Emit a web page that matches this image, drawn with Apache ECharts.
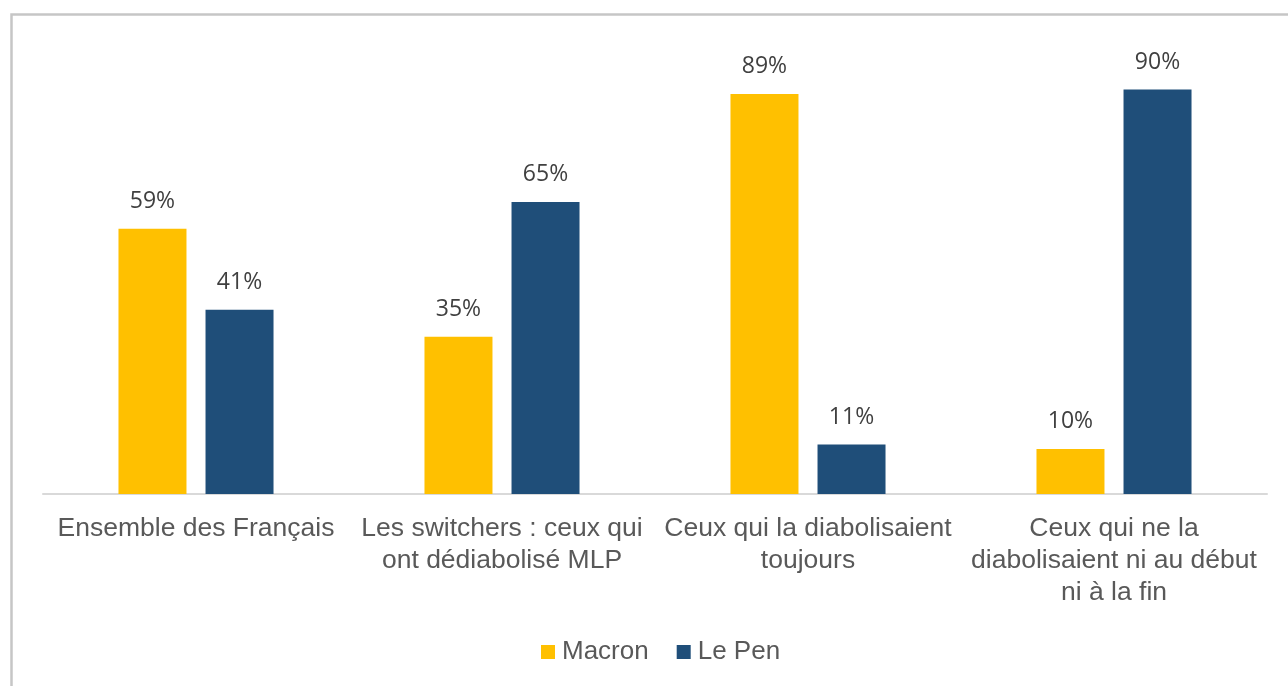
<!DOCTYPE html>
<html>
<head>
<meta charset="utf-8">
<script src="https://cdn.jsdelivr.net/npm/echarts@6/dist/echarts.min.js"></script>
<style>html,body{margin:0;padding:0;background:#fff}#c{width:1288px;height:686px}</style>
</head>
<body>
<div id="c"></div>
<script>
const categories = [
  "Ensemble des Français",
  "Les switchers : ceux qui\nont dédiabolisé MLP",
  "Ceux qui la diabolisaient\ntoujours",
  "Ceux qui ne la\ndiabolisaient ni au début\nni à la fin"
];
const seriesNames = ["Macron", "Le Pen"];
const macron = [59, 35, 89, 10];
const lepen = [41, 65, 11, 90];
const colors = ["#FFC000", "#1F4E79"];

const chart = echarts.init(document.getElementById('c'));
const labelStyle = {
  show: true, position: 'top', distance: 16,
  formatter: p => p.value + '%',
  fontFamily: 'Open Sans', fontSize: 23, color: '#404040'
};
chart.setOption({
  animation: false,
  backgroundColor: '#fff',
  graphic: [{
    type: 'rect', left: 9, top: 12, silent: true,
    shape: { width: 1400, height: 800 },
    style: { fill: 'none', stroke: '#c6c6c6', lineWidth: 2.5 }
  }],
  grid: { left: 43, right: 21, top: 44.6, bottom: 192 },
  legend: {
    left: 536, top: 634,
    itemWidth: 14, itemHeight: 14, itemGap: 28, icon: 'rect',
    textStyle: { fontFamily: 'Liberation Sans', fontSize: 26, color: '#595959', padding: [0, 0, 0, 2] },
    data: seriesNames
  },
  xAxis: {
    type: 'category', data: categories,
    axisLine: { lineStyle: { color: '#d9d9d9', width: 2 } },
    axisTick: { show: false },
    axisLabel: {
      fontFamily: 'Liberation Sans', fontSize: 26.5, color: '#595959',
      lineHeight: 32, margin: 19, interval: 0, align: 'center'
    }
  },
  yAxis: { type: 'value', min: 0, max: 100, show: false, splitLine: { show: false } },
  series: [
    { name: seriesNames[0], type: 'bar', data: macron, barWidth: 68, barGap: '28%',
      itemStyle: { color: colors[0] }, label: labelStyle },
    { name: seriesNames[1], type: 'bar', data: lepen, barWidth: 68, barGap: '28%',
      itemStyle: { color: colors[1] }, label: labelStyle }
  ]
});
</script>
</body>
</html>
